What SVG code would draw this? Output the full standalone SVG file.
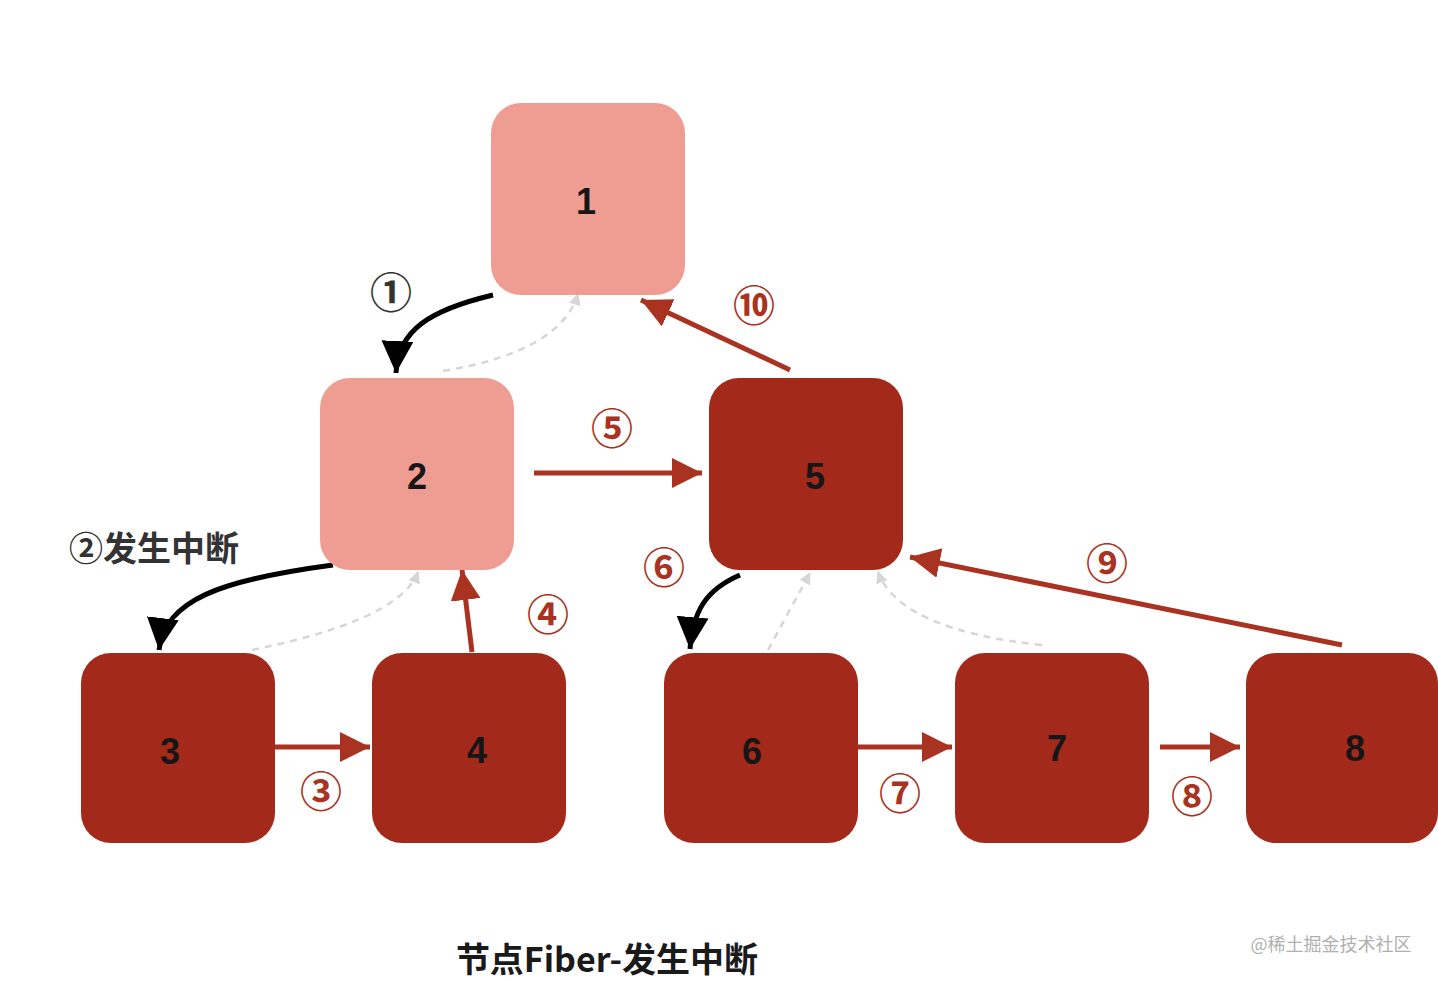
<svg xmlns="http://www.w3.org/2000/svg" width="1438" height="982" viewBox="0 0 1438 982">
<style>
.light{fill:#EF9D93}
.dark{fill:#A3291A}
.num{font-family:"Liberation Sans",Arial,sans-serif;font-weight:bold;font-size:36px;fill:#161616;text-anchor:middle}
.red{stroke:#A93220;stroke-width:5;fill:none}
.blk{stroke:#000;stroke-width:5;fill:none}
.dash{stroke:#D6D6D6;stroke-width:2.5;fill:none;stroke-dasharray:7 6}
.cn{font-family:"Noto Sans CJK SC","Noto Sans",sans-serif;text-anchor:middle}
.rl{fill:#A93220;font-size:42px;font-weight:bold}
.bl{fill:#333;font-size:42px;font-weight:bold}
</style>
<defs>
<marker id="ar" markerUnits="userSpaceOnUse" markerWidth="34" markerHeight="34" refX="30" refY="15" orient="auto"><path d="M0,0 L30,15 L0,30 Z" fill="#A93220"/></marker>
<marker id="ab" markerUnits="userSpaceOnUse" markerWidth="36" markerHeight="36" refX="32" refY="16" orient="auto"><path d="M0,0 L32,16 L0,32 Z" fill="#000"/></marker>
<marker id="ag" markerUnits="userSpaceOnUse" markerWidth="14" markerHeight="14" refX="11" refY="6" orient="auto"><path d="M0,0 L12,6 L0,12 Z" fill="#D6D6D6"/></marker>
</defs>
<rect width="1438" height="982" fill="#fff"/>
<g id="connectors">
<path class="blk" d="M493,295 C430,310 398,330 396,373" marker-end="url(#ab)"/>
<path class="dash" d="M443,371 Q560,352 578,294" marker-end="url(#ag)"/>
<path class="blk" d="M333,565 C220,580 165,600 159,650" marker-end="url(#ab)"/>
<path class="dash" d="M252,650 Q400,620 418,572" marker-end="url(#ag)"/>
<path class="red" d="M472,652 L462,570" marker-end="url(#ar)"/>
<path class="red" d="M275,747 L370,747" marker-end="url(#ar)"/>
<path class="red" d="M534,473 L702,473" marker-end="url(#ar)"/>
<path class="blk" d="M740,575 C705,590 693,612 690,649" marker-end="url(#ab)"/>
<path class="dash" d="M768,650 L810,573" marker-end="url(#ag)"/>
<path class="dash" d="M1042,645 Q900,630 878,572" marker-end="url(#ag)"/>
<path class="red" d="M1342,645 L910,557" marker-end="url(#ar)"/>
<path class="red" d="M790,370 L641,300" marker-end="url(#ar)"/>
<path class="red" d="M858,747 L952,747" marker-end="url(#ar)"/>
<path class="red" d="M1160,747 L1240,747" marker-end="url(#ar)"/>
</g>
<g id="node1"><rect class="light" x="491" y="103" width="194" height="192" rx="30"/><text class="num" x="586" y="214">1</text></g>
<g id="node2"><rect class="light" x="320" y="378" width="194" height="192" rx="30"/><text class="num" x="417" y="489">2</text></g>
<g id="node5"><rect class="dark" x="709" y="378" width="194" height="192" rx="30"/><text class="num" x="815" y="489">5</text></g>
<g id="node3"><rect class="dark" x="81" y="653" width="194" height="190" rx="30"/><text class="num" x="170" y="764">3</text></g>
<g id="node4"><rect class="dark" x="372" y="653" width="194" height="190" rx="30"/><text class="num" x="477" y="763">4</text></g>
<g id="node6"><rect class="dark" x="664" y="653" width="194" height="190" rx="30"/><text class="num" x="752" y="764">6</text></g>
<g id="node7"><rect class="dark" x="955" y="653" width="194" height="190" rx="30"/><text class="num" x="1057" y="761">7</text></g>
<g id="node8"><rect class="dark" x="1246" y="653" width="192" height="190" rx="30"/><text class="num" x="1355" y="761">8</text></g>
<g id="labels">
<text class="cn bl" x="391" y="308">①</text>
<text class="cn" x="154" y="561" style="font-size:34px;fill:#333;font-weight:bold">②发生中断</text>
<text class="cn rl" x="321" y="807">③</text>
<text class="cn rl" x="548" y="630">④</text>
<text class="cn rl" x="612" y="444">⑤</text>
<text class="cn rl" x="664" y="583">⑥</text>
<text class="cn rl" x="900" y="809">⑦</text>
<text class="cn rl" x="1192" y="812">⑧</text>
<text class="cn rl" x="1107" y="579">⑨</text>
<text class="cn rl" x="754" y="321">⑩</text>
<text class="cn" x="607" y="972" style="font-size:34px;font-weight:bold;fill:#1a1a1a">节点Fiber-发生中断</text>
<text class="cn" x="1331" y="951" style="font-size:18px;fill:#b0b0b0">@稀土掘金技术社区</text>
</g>
</svg>
